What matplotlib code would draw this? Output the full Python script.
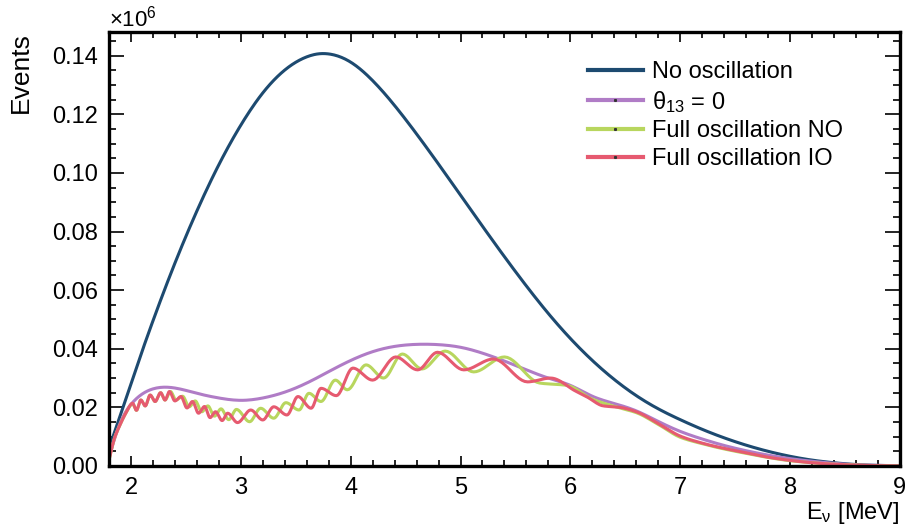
import numpy as np
import matplotlib
matplotlib.use("Agg")
import matplotlib.pyplot as plt
from matplotlib.lines import Line2D
from matplotlib.ticker import MultipleLocator, FormatStrFormatter

plt.rcParams['font.family'] = ['Liberation Sans', 'DejaVu Sans']
plt.rcParams['mathtext.fontset'] = 'custom'
plt.rcParams['mathtext.rm'] = 'Liberation Sans'
plt.rcParams['mathtext.it'] = 'Liberation Sans'

# Spectra in units of 10^6 events, energy in MeV
e_smooth = [1.8, 1.9, 2.0, 2.1, 2.2, 2.4, 2.6, 2.8, 3.0, 3.2, 3.4, 3.6, 3.7, 3.8,
            4.0, 4.2, 4.4, 4.6, 4.8, 5.0, 5.2, 5.4, 5.6, 5.8, 6.0, 6.2, 6.4,
            6.6, 6.8, 7.0, 7.2, 7.4, 7.6, 7.8, 8.0, 8.2, 8.4, 8.6, 8.8, 9.0]
no_osc = [0.006, 0.017, 0.028, 0.039, 0.0495, 0.0692, 0.0870, 0.1028, 0.1163,
          0.1273, 0.1351, 0.1396, 0.1406, 0.1406, 0.1378, 0.1315, 0.1230, 0.1133,
          0.1030, 0.0924, 0.0818, 0.0714, 0.0614, 0.0520, 0.0435, 0.0360, 0.0295,
          0.0240, 0.0195, 0.0158, 0.0125, 0.0096, 0.0071, 0.0050, 0.0033, 0.0020,
          0.0011, 0.0005, 0.0002, 0.0001]
theta13_zero = [0.003, 0.0145, 0.021, 0.0245, 0.0263, 0.0266, 0.0248, 0.0232,
                0.0224, 0.0232, 0.0252, 0.0283, 0.0302, 0.0322, 0.036, 0.039,
                0.0408, 0.0415, 0.0414, 0.0405, 0.0385, 0.0358, 0.0328, 0.030,
                0.0275, 0.0238, 0.0213, 0.0188, 0.0152, 0.0118, 0.0092, 0.007,
                0.0052, 0.0037, 0.0025, 0.0016, 0.0009, 0.0004, 0.0002, 0.0001]

# Oscillated spectra: turning points and tail points
io_e = [1.80, 1.85, 1.90, 1.95, 2.015, 2.05, 2.09, 2.13, 2.175, 2.22, 2.27, 2.31,
        2.35, 2.40, 2.455, 2.51, 2.56, 2.615, 2.67, 2.72, 2.77, 2.83, 2.88, 2.97,
        3.09, 3.20, 3.30, 3.42, 3.52, 3.64, 3.73, 3.87, 4.02, 4.20, 4.41, 4.61,
        4.79, 5.03, 5.30, 5.61, 5.82, 6.05, 6.15, 6.30, 6.45, 6.60, 6.80, 7.00,
        7.20, 7.40, 7.60, 7.80, 8.00, 8.20, 8.40, 8.60, 8.80, 9.00]
io_v = [0.002, 0.0095, 0.014, 0.0178, 0.0214, 0.019, 0.0225, 0.0205, 0.0242,
        0.022, 0.025, 0.0225, 0.0254, 0.0222, 0.0237, 0.0198, 0.022, 0.018,
        0.0203, 0.0165, 0.0185, 0.0155, 0.018, 0.0148, 0.0191, 0.0157, 0.0202,
        0.0174, 0.0237, 0.0197, 0.0265, 0.024, 0.0334, 0.0293, 0.0372, 0.0328,
        0.0388, 0.0328, 0.0365, 0.0287, 0.030, 0.0255, 0.0236, 0.0205, 0.020,
        0.0185, 0.0145, 0.0102, 0.0078, 0.006, 0.0045, 0.003, 0.0019, 0.0011,
        0.0006, 0.0003, 0.0001, 0.0]

no_e = [1.80, 1.85, 1.90, 1.95, 2.015, 2.05, 2.09, 2.13, 2.175, 2.22, 2.27, 2.31,
        2.36, 2.41, 2.47, 2.53, 2.585, 2.645, 2.70, 2.76, 2.82, 2.89, 2.96, 3.08,
        3.18, 3.30, 3.41, 3.53, 3.62, 3.73, 3.86, 3.97, 4.14, 4.30, 4.47, 4.65,
        4.86, 5.12, 5.40, 5.72, 5.97, 6.20, 6.45, 6.60, 6.80, 7.00, 7.20, 7.40,
        7.60, 7.80, 8.00, 8.20, 8.40, 8.60, 8.80, 9.00]
no_v = [0.002, 0.0095, 0.014, 0.0178, 0.0212, 0.019, 0.0225, 0.0205, 0.0242,
        0.022, 0.025, 0.0225, 0.0254, 0.0225, 0.0238, 0.0202, 0.0222, 0.0185,
        0.0205, 0.017, 0.0195, 0.0158, 0.0193, 0.0151, 0.0197, 0.0163, 0.0216,
        0.0191, 0.0248, 0.022, 0.0293, 0.026, 0.0345, 0.030, 0.0382, 0.0331,
        0.0392, 0.0321, 0.0372, 0.0283, 0.0275, 0.0228, 0.0198, 0.0182, 0.0142,
        0.0098, 0.0076, 0.0058, 0.0043, 0.0029, 0.0018, 0.0011, 0.0006, 0.0003,
        0.0001, 0.0]


def hermite(x, y, m, n=12):
    xs, ys = [], []
    h = np.diff(x)
    t = np.linspace(0, 1, n, endpoint=False)
    h00 = 2 * t**3 - 3 * t**2 + 1
    h10 = t**3 - 2 * t**2 + t
    h01 = -2 * t**3 + 3 * t**2
    h11 = t**3 - t**2
    for k in range(len(x) - 1):
        xs.append(x[k] + t * h[k])
        ys.append(h00 * y[k] + h10 * h[k] * m[k] + h01 * y[k + 1] + h11 * h[k] * m[k + 1])
    xs.append([x[-1]])
    ys.append([y[-1]])
    return np.concatenate(xs), np.concatenate(ys)


def pchip(x, y):
    # monotone cubic, flat at the turning points
    x = np.asarray(x, float)
    y = np.asarray(y, float)
    h = np.diff(x)
    d = np.diff(y) / h
    m = np.zeros_like(y)
    for k in range(1, len(x) - 1):
        if d[k - 1] * d[k] > 0:
            w1 = 2 * h[k] + h[k - 1]
            w2 = h[k] + 2 * h[k - 1]
            m[k] = (w1 + w2) / (w1 / d[k - 1] + w2 / d[k])
    m[0] = d[0]
    m[-1] = d[-1]
    return hermite(x, y, m)


def spline(x, y):
    # natural cubic spline for the smooth spectra
    x = np.asarray(x, float)
    y = np.asarray(y, float)
    n = len(x)
    h = np.diff(x)
    d = np.diff(y) / h
    A = np.zeros((n, n))
    b = np.zeros(n)
    A[0, 0], A[0, 1], b[0] = 2, 1, 3 * d[0]
    A[-1, -2], A[-1, -1], b[-1] = 1, 2, 3 * d[-1]
    for k in range(1, n - 1):
        A[k, k - 1] = h[k]
        A[k, k] = 2 * (h[k - 1] + h[k])
        A[k, k + 1] = h[k - 1]
        b[k] = 3 * (h[k] * d[k - 1] + h[k - 1] * d[k])
    m = np.linalg.solve(A, b)
    return hermite(x, y, m)


c_blue = '#1d4a70'
c_purple = '#b07cc6'
c_green = '#b8d65e'
c_red = '#e65a70'

fig = plt.figure(figsize=(9.06, 5.30), dpi=100)
ax = fig.add_axes([0.1203, 0.1208, 0.873, 0.8189])

ax.plot(*spline(e_smooth, no_osc), color=c_blue, lw=2.2)
ax.plot(*spline(e_smooth, theta13_zero), color=c_purple, lw=2.2)
ax.plot(*pchip(no_e, no_v), color=c_green, lw=2.2)
ax.plot(*pchip(io_e, io_v), color=c_red, lw=2.2)

ax.set_xlim(1.8, 9.0)
ax.set_ylim(0, 0.1481)
ax.xaxis.set_major_locator(MultipleLocator(1))
ax.xaxis.set_minor_locator(MultipleLocator(0.2))
ax.yaxis.set_major_locator(MultipleLocator(0.02))
ax.yaxis.set_minor_locator(MultipleLocator(0.005))
ax.yaxis.set_major_formatter(FormatStrFormatter('%.2f'))
ax.tick_params(which='both', direction='in', top=True, right=True,
               labelsize=17, width=1.2, color='black')
ax.tick_params(axis='x', which='major', length=7, pad=8)
ax.tick_params(axis='x', which='minor', length=4)
ax.tick_params(axis='y', which='major', length=11, pad=8)
ax.tick_params(axis='y', which='minor', length=5)
for s in ax.spines.values():
    s.set_linewidth(2.4)

ax.set_ylabel('Events', fontsize=19, loc='top', labelpad=14)
ax.set_xlabel(r'E$_{\nu}$ [MeV]', fontsize=17, loc='right', labelpad=1)
ax.text(0.0, 1.0, r'$\times10^{6}$', transform=ax.transAxes, fontsize=16,
        ha='left', va='bottom')

handles = [
    Line2D([], [], color=c_blue, lw=3),
    Line2D([], [], color=c_purple, lw=3, marker='s', ms=1.2, mfc='#333333', mec='#333333'),
    Line2D([], [], color=c_green, lw=3, marker='s', ms=1.2, mfc='#333333', mec='#333333'),
    Line2D([], [], color=c_red, lw=3, marker='s', ms=1.2, mfc='#333333', mec='#333333'),
]
labels = ['No oscillation', r'$\theta_{13}$ = 0', 'Full oscillation NO', 'Full oscillation IO']
ax.legend(handles, labels, loc='upper left', bbox_to_anchor=(0.594, 0.955),
          frameon=False, fontsize=17, handlelength=2.3, handletextpad=0.4,
          labelspacing=0.24, numpoints=1, borderaxespad=0)

fig.savefig('out.png', dpi=100)
